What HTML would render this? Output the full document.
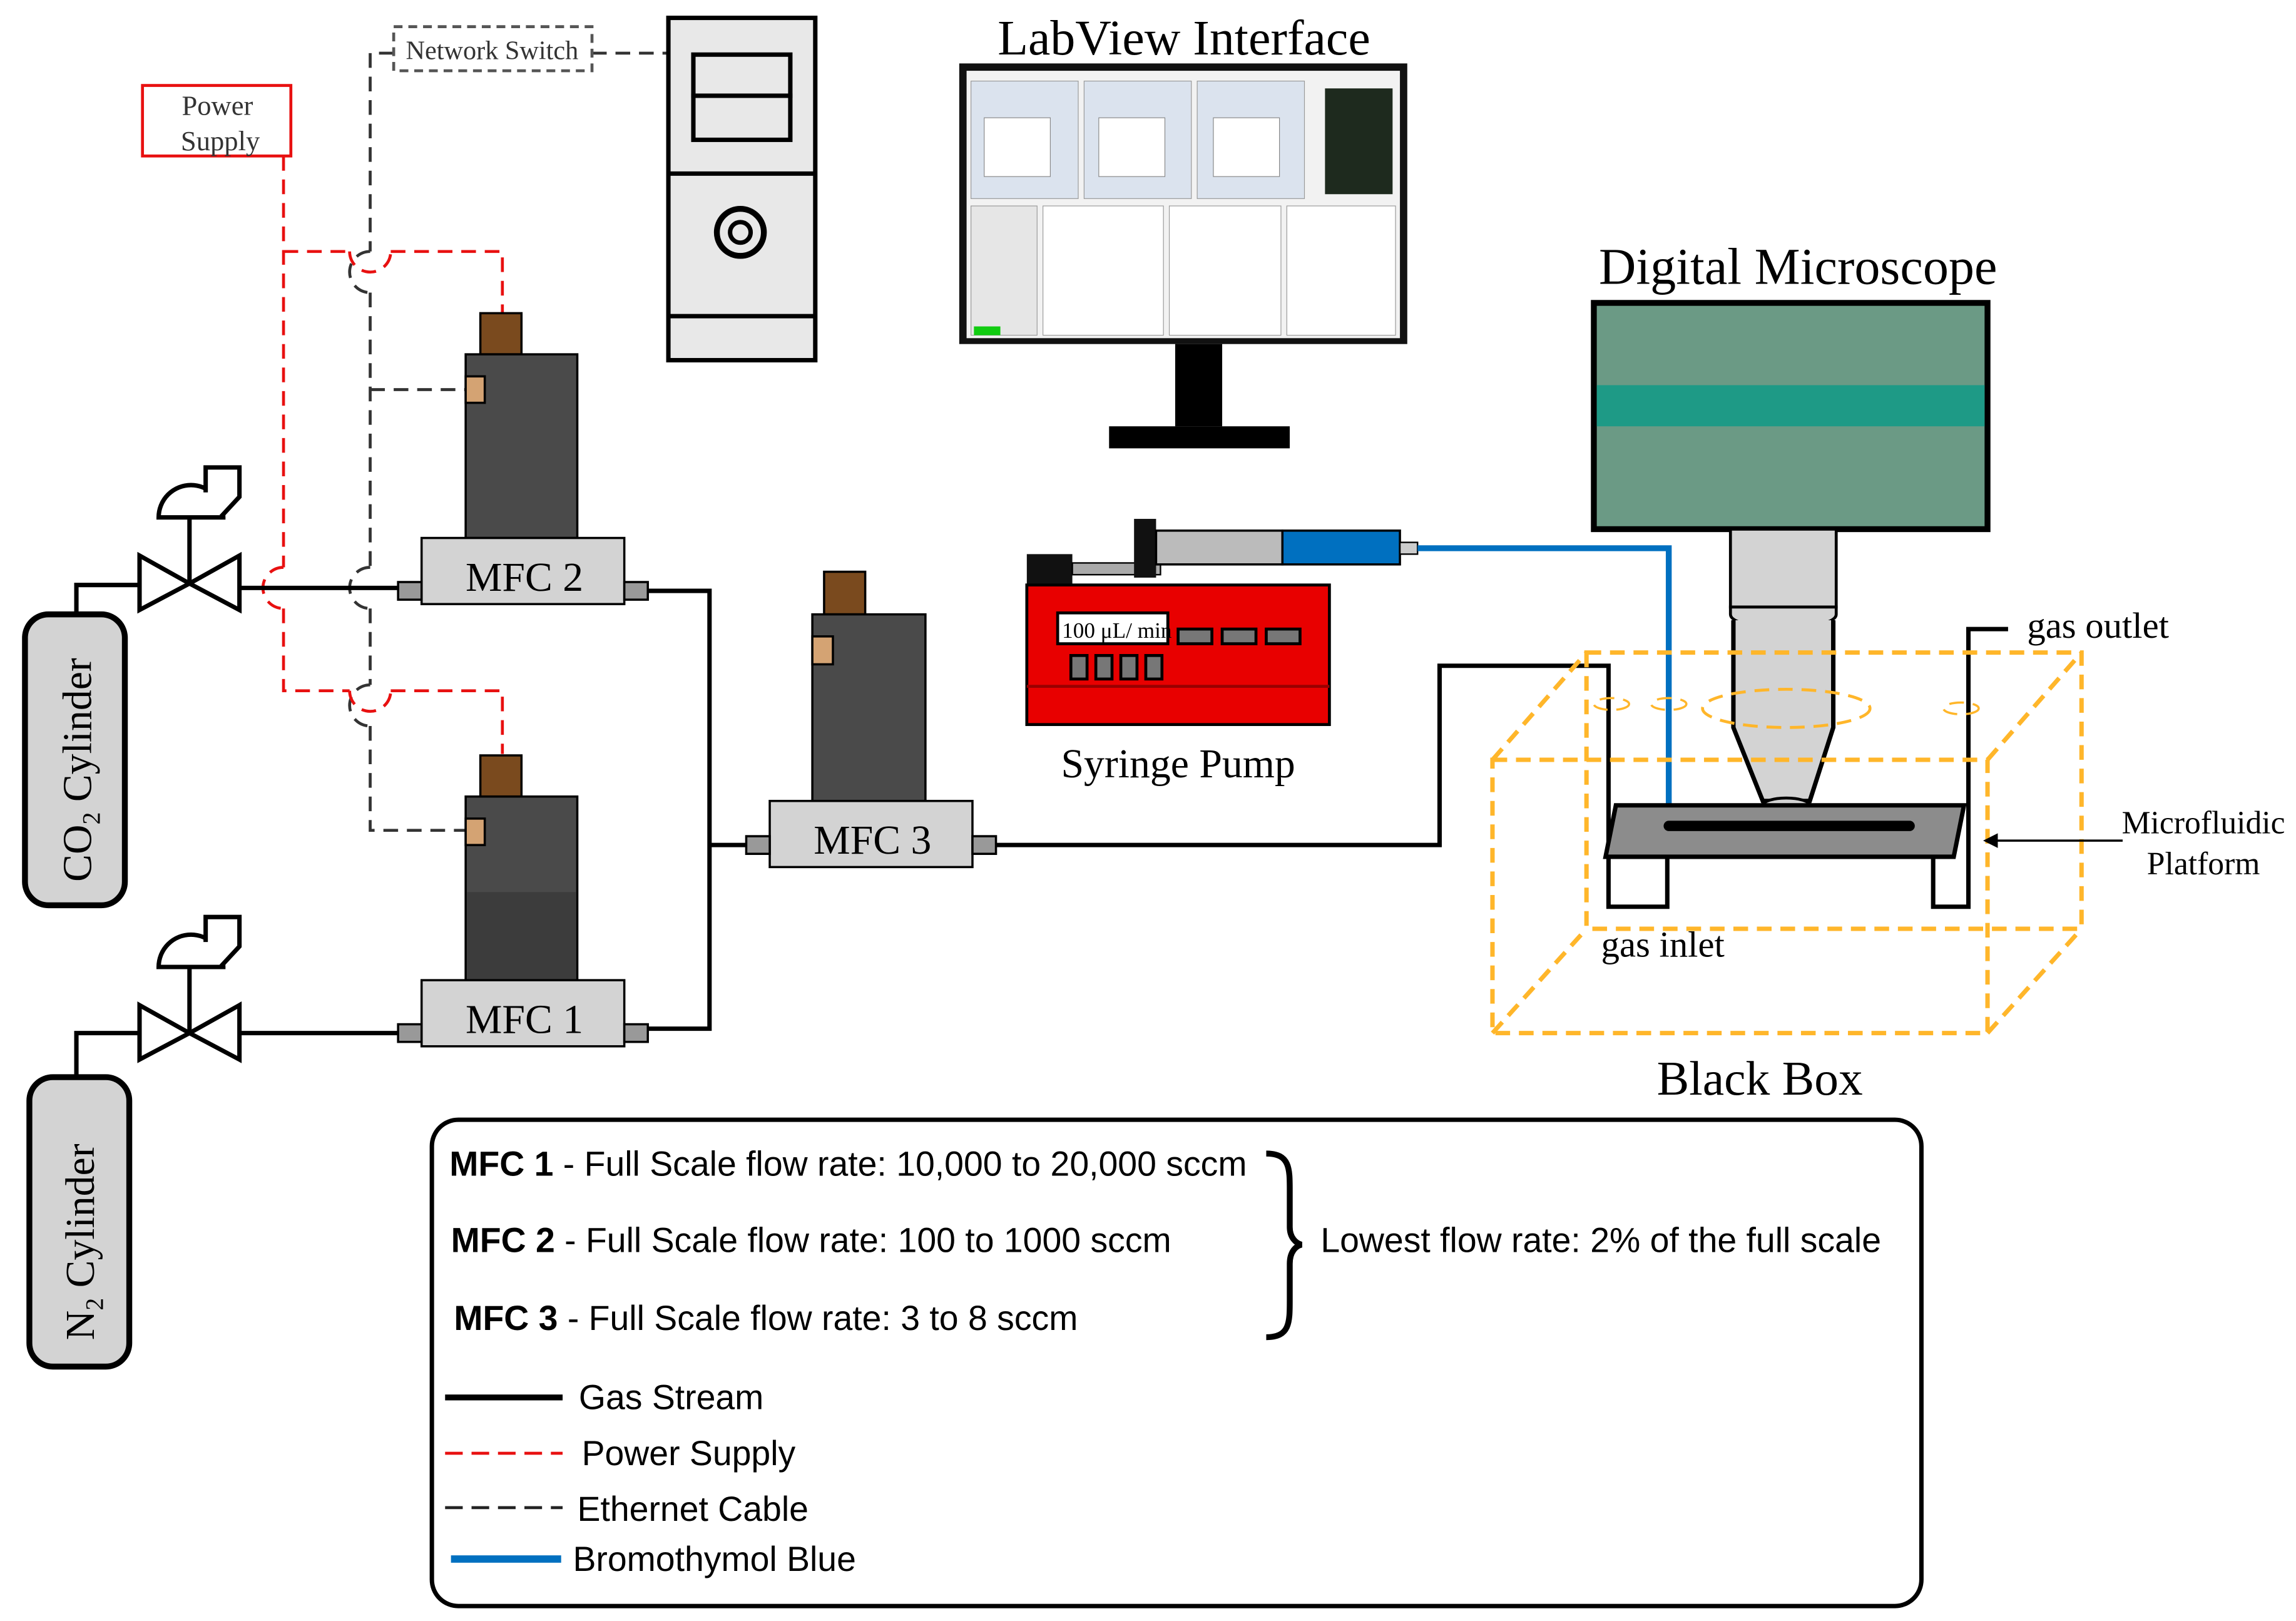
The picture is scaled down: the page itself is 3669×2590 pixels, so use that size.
<!DOCTYPE html>
<html><head><meta charset="utf-8"><style>html,body{margin:0;padding:0;background:#fff}svg{display:block}</style></head><body>
<svg xmlns="http://www.w3.org/2000/svg" width="3669" height="2590" viewBox="0 0 1563 1103">
<rect width="1563" height="1103" fill="#fff"/>
<g font-family="Liberation Serif, serif">
<g stroke="#333" stroke-width="2" stroke-dasharray="10,6" fill="none">
<path d="M403,36 H455"/>
<path d="M268,36 H252 V171"/>
<path d="M252,199 V386 M252,414 V466 M252,494 V565 H318"/>
<path d="M252,265 H318"/>
<path d="M252,171 A14,14 0 0 0 252,199 M252,386 A14,14 0 0 0 252,414 M252,466 A14,14 0 0 0 252,494"/>
</g>
<rect x="268" y="18" width="135" height="30" fill="#fff" stroke="#555" stroke-width="2" stroke-dasharray="6,4"/>
<text x="335" y="40" font-size="18" text-anchor="middle" fill="#333">Network Switch</text>
<g stroke="#e81010" stroke-width="2" stroke-dasharray="10,6" fill="none">
<path d="M193,106 V386 M193,414 V470 H238 M266,470 H342 V513"/>
<path d="M193,171 H238 M266,171 H342 V213"/>
<path d="M238,171 A14,14 0 0 0 266,171 M238,470 A14,14 0 0 0 266,470 M193,386 A14,14 0 0 0 193,414"/>
</g>
<rect x="97" y="58" width="101" height="48" fill="#fff" stroke="#e81010" stroke-width="2"/>
<text x="148" y="78" font-size="19" text-anchor="middle" fill="#333">Power</text>
<text x="150" y="102" font-size="19" text-anchor="middle" fill="#333">Supply</text>
<rect x="455" y="12" width="100" height="233" fill="#e8e8e8" stroke="#000" stroke-width="3"/>
<rect x="472" y="37" width="66" height="28" fill="#e8e8e8" stroke="#000" stroke-width="3"/>
<rect x="472" y="65" width="66" height="30" fill="#e8e8e8" stroke="#000" stroke-width="3"/>
<path d="M455,118 H555 M455,215 H555" stroke="#000" stroke-width="3"/>
<circle cx="504" cy="158" r="16" fill="none" stroke="#000" stroke-width="4"/>
<circle cx="504" cy="158" r="7" fill="none" stroke="#000" stroke-width="3"/>
<g stroke="#000" stroke-width="3" fill="none">
<path d="M52,418 V398 H95"/>
<path d="M163,400 H271"/>
<path d="M441,402 H483 V700 H441"/>
<path d="M483,575 H508"/>
<path d="M678,575 H980 V453 H1095 V617 H1135 V582"/>
<path d="M1316,582 V617 H1340 V428 H1367"/>
<path d="M52,733 V703 H95 M163,703 H271"/>
</g>
<rect x="17" y="418" width="68" height="198" rx="16" fill="#d3d3d3" stroke="#000" stroke-width="4"/>
<text transform="translate(62,600) rotate(-90)" font-size="28">CO<tspan font-size="17" dy="6">2</tspan><tspan dy="-6"> Cylinder</tspan></text>
<rect x="20" y="733" width="68" height="197" rx="16" fill="#d3d3d3" stroke="#000" stroke-width="4"/>
<text transform="translate(64,912) rotate(-90)" font-size="28">N<tspan font-size="17" dy="6">2</tspan><tspan dy="-6"> Cylinder</tspan></text>
<g stroke="#000" stroke-width="3" fill="#fff">
<path d="M95,378 L129,397 L95,415 Z M163,378 L129,397 L163,415 Z"/>
<path d="M129,397 V352"/><path d="M108,352 A22,22 0 0 1 152,352 Z"/>
<path d="M140,335 V318 H163 V338 L150,352"/>
<path d="M95,684 L129,703 L95,721 Z M163,684 L129,703 L163,721 Z"/>
<path d="M129,703 V658"/><path d="M108,658 A22,22 0 0 1 152,658 Z"/>
<path d="M140,641 V624 H163 V644 L150,658"/>
</g>
<g stroke="#000" stroke-width="1.5">
<rect x="327" y="213" width="28" height="28" fill="#7a4a1e"/>
<rect x="317" y="241" width="76" height="125" fill="#4a4a4a"/>
<rect x="317" y="256" width="13" height="18" fill="#d4a373"/>
<rect x="287" y="366" width="138" height="45" fill="#d3d3d3"/>
<rect x="271" y="396" width="16" height="12" fill="#999"/><rect x="425" y="396" width="16" height="12" fill="#999"/>
<rect x="327" y="514" width="28" height="28" fill="#7a4a1e"/>
<rect x="317" y="542" width="76" height="125" fill="#4a4a4a"/>
<rect x="318" y="607" width="74" height="60" fill="#3c3c3c" stroke="none"/>
<rect x="317" y="557" width="13" height="18" fill="#d4a373"/>
<rect x="287" y="667" width="138" height="45" fill="#d3d3d3"/>
<rect x="271" y="697" width="16" height="12" fill="#999"/><rect x="425" y="697" width="16" height="12" fill="#999"/>
<rect x="561" y="389" width="28" height="29" fill="#7a4a1e"/>
<rect x="553" y="418" width="77" height="127" fill="#4a4a4a"/>
<rect x="553" y="433" width="14" height="19" fill="#d4a373"/>
<rect x="524" y="545" width="138" height="45" fill="#d3d3d3"/>
<rect x="508" y="569" width="16" height="12" fill="#999"/><rect x="662" y="569" width="16" height="12" fill="#999"/>
</g>
<text x="357" y="402" font-size="28" text-anchor="middle">MFC 2</text>
<text x="357" y="703" font-size="28" text-anchor="middle">MFC 1</text>
<text x="594" y="581" font-size="28" text-anchor="middle">MFC 3</text>
<text x="806" y="37" font-size="34" text-anchor="middle">LabView Interface</text>
<rect x="653" y="43" width="305" height="191" fill="#111"/>
<rect x="658" y="48" width="295" height="182" fill="#f2f2f2"/>
<rect x="661" y="55" width="73" height="80" fill="#dbe3ee" stroke="#999" stroke-width="0.5"/>
<rect x="738" y="55" width="73" height="80" fill="#dbe3ee" stroke="#999" stroke-width="0.5"/>
<rect x="815" y="55" width="73" height="80" fill="#dbe3ee" stroke="#999" stroke-width="0.5"/>
<rect x="670" y="80" width="45" height="40" fill="#fff" stroke="#888" stroke-width="0.5"/>
<rect x="748" y="80" width="45" height="40" fill="#fff" stroke="#888" stroke-width="0.5"/>
<rect x="826" y="80" width="45" height="40" fill="#fff" stroke="#888" stroke-width="0.5"/>
<rect x="902" y="60" width="46" height="72" fill="#1e2a1e"/>
<rect x="661" y="140" width="45" height="88" fill="#e6e6e6" stroke="#999" stroke-width="0.5"/>
<rect x="710" y="140" width="82" height="88" fill="#fff" stroke="#999" stroke-width="0.5"/>
<rect x="796" y="140" width="76" height="88" fill="#fff" stroke="#999" stroke-width="0.5"/>
<rect x="876" y="140" width="74" height="88" fill="#fff" stroke="#999" stroke-width="0.5"/>
<rect x="663" y="222" width="18" height="6" fill="#1c1"/>
<rect x="800" y="234" width="32" height="56" fill="#000"/>
<rect x="755" y="290" width="123" height="15" fill="#000"/>
<rect x="699" y="377" width="31" height="21" fill="#111"/>
<rect x="730" y="383" width="60" height="8" fill="#aaa" stroke="#000" stroke-width="1"/>
<rect x="772" y="353" width="15" height="40" fill="#111"/>
<rect x="787" y="361" width="86" height="23" fill="#bbb" stroke="#000" stroke-width="1.5"/>
<rect x="873" y="361" width="80" height="23" fill="#0070c0" stroke="#000" stroke-width="1.5"/>
<rect x="953" y="369" width="12" height="8" fill="#ccc" stroke="#000" stroke-width="1"/>
<rect x="699" y="398" width="206" height="95" fill="#e80000" stroke="#000" stroke-width="2"/>
<path d="M699,467 H905" stroke="#900" stroke-width="2"/>
<rect x="720" y="417" width="75" height="21" fill="#fff" stroke="#000" stroke-width="2"/>
<text x="723" y="434" font-size="15">100 μL/ min</text>
<g fill="#777" stroke="#000" stroke-width="2">
<rect x="802" y="428" width="23" height="10"/><rect x="832" y="428" width="23" height="10"/><rect x="862" y="428" width="23" height="10"/>
<rect x="729" y="446" width="11" height="16"/><rect x="746" y="446" width="11" height="16"/><rect x="763" y="446" width="11" height="16"/><rect x="780" y="446" width="11" height="16"/>
</g>
<text x="802" y="529" font-size="28" text-anchor="middle">Syringe Pump</text>
<path d="M965,373 H1136 V560" stroke="#0070c0" stroke-width="4" fill="none"/>
<text x="1224" y="193" font-size="35" text-anchor="middle">Digital Microscope</text>
<rect x="1085" y="206" width="268" height="154" fill="#6b9a85" stroke="#000" stroke-width="4"/>
<rect x="1087" y="262" width="264" height="28" fill="#1e9a86"/>
<rect x="1178" y="360" width="72" height="53" fill="#d3d3d3" stroke="#000" stroke-width="2"/>
<path d="M1178,413 H1250 V418 C1250,430 1178,430 1178,418 Z" fill="#d3d3d3" stroke="#000" stroke-width="2"/>
<path d="M1180,422 L1180,495 L1200,545 L1232,545 L1248,495 L1248,422" fill="#d3d3d3" stroke="#000" stroke-width="3"/>
<ellipse cx="1216" cy="548" rx="16" ry="5" fill="#d3d3d3" stroke="#000" stroke-width="2"/>
<g stroke="#ffb62a" stroke-width="3" stroke-dasharray="10,6" fill="none">
<rect x="1080" y="444" width="337" height="188"/>
<rect x="1016" y="517" width="337" height="186"/>
<path d="M1016,517 L1080,444 M1353,517 L1417,444 M1016,703 L1080,632 M1353,703 L1417,632"/>
<ellipse cx="1097" cy="479" rx="12" ry="4" stroke-width="1.5"/>
<ellipse cx="1136" cy="479" rx="12" ry="4" stroke-width="1.5"/>
<ellipse cx="1216" cy="482" rx="57" ry="13" stroke-width="2"/>
<ellipse cx="1335" cy="482" rx="12" ry="4" stroke-width="1.5"/>
</g>
<path d="M1100,548 H1337 L1330,583 H1093 Z" fill="#8c8c8c" stroke="#000" stroke-width="3"/>
<path d="M1136,562 H1300" stroke="#000" stroke-width="7" stroke-linecap="round"/>
<path d="M1445,572 H1356" stroke="#000" stroke-width="1.5"/>
<path d="M1350,572 L1360,567 L1360,577 Z" fill="#000"/>
<text x="1500" y="567" font-size="22" text-anchor="middle">Microfluidic</text>
<text x="1500" y="595" font-size="22" text-anchor="middle">Platform</text>
<text x="1380" y="434" font-size="25">gas outlet</text>
<text x="1090" y="651" font-size="25">gas inlet</text>
<text x="1198" y="745" font-size="33" text-anchor="middle">Black Box</text>
</g>
<rect x="294" y="762" width="1014" height="331" rx="18" fill="#fff" stroke="#000" stroke-width="3"/>
<g font-family="Liberation Sans, sans-serif" font-size="23.6">
<text x="306" y="800"><tspan font-weight="bold">MFC 1</tspan> - Full Scale flow rate: 10,000 to 20,000 sccm</text>
<text x="307" y="852"><tspan font-weight="bold">MFC 2</tspan> - Full Scale flow rate: 100 to 1000 sccm</text>
<text x="309" y="905"><tspan font-weight="bold">MFC 3</tspan> - Full Scale flow rate: 3 to 8 sccm</text>
<text x="899" y="852">Lowest flow rate: 2% of the full scale</text>
<text x="394" y="959">Gas Stream</text>
<text x="396" y="997">Power Supply</text>
<text x="393" y="1035">Ethernet Cable</text>
<text x="390" y="1069">Bromothymol Blue</text>
</g>
<path d="M862,785 C878,785 878,795 878,810 V835 C878,842 882,846 886,847 C882,848 878,852 878,860 V885 C878,900 878,910 862,910" stroke="#000" stroke-width="4" fill="none"/>
<path d="M303,951 H383" stroke="#000" stroke-width="4"/>
<path d="M303,989 H383" stroke="#e81010" stroke-width="2" stroke-dasharray="12,6"/>
<path d="M303,1026 H383" stroke="#222" stroke-width="2" stroke-dasharray="12,6"/>
<path d="M307,1061 H382" stroke="#0070c0" stroke-width="5"/>
</svg>
</body></html>
